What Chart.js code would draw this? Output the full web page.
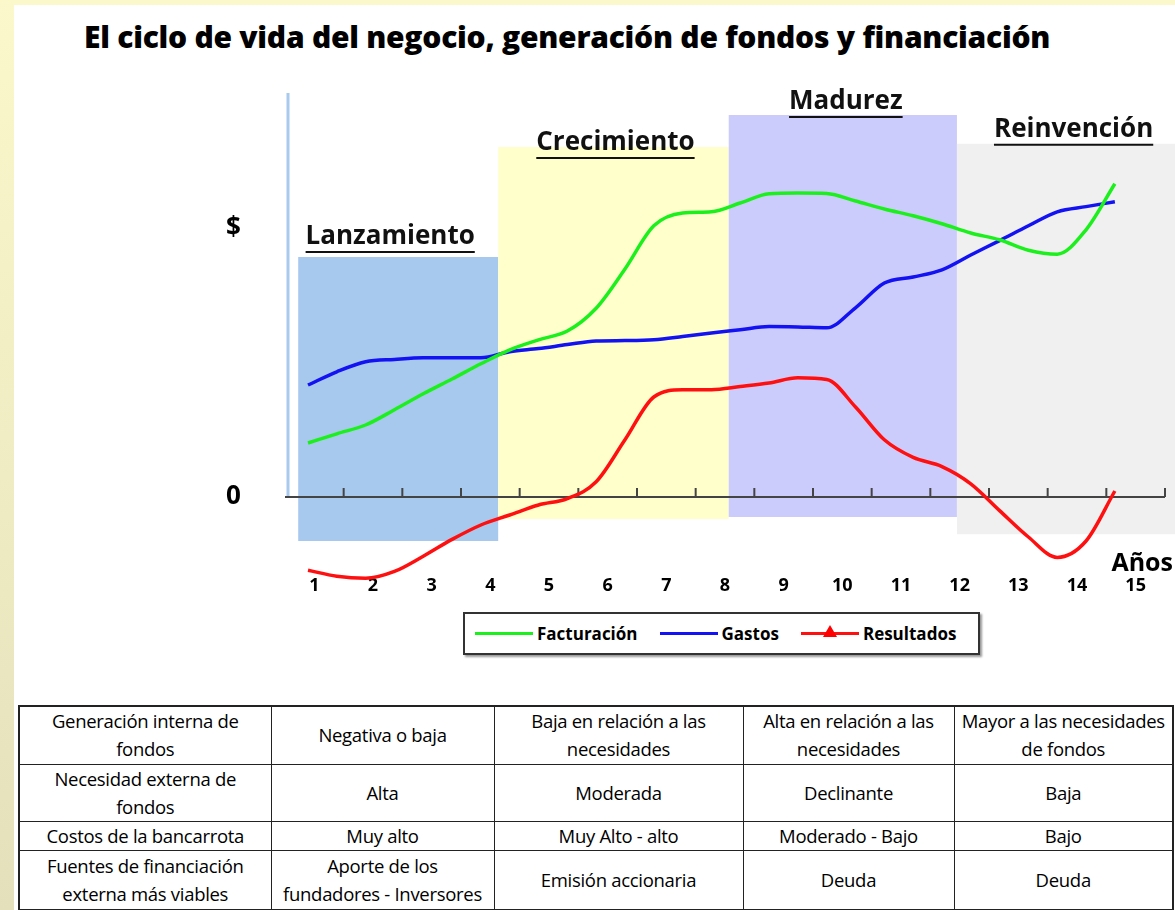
<!DOCTYPE html>
<html lang="es">
<head>
<meta charset="utf-8">
<title>El ciclo de vida del negocio</title>
<script src="https://cdn.jsdelivr.net/npm/chart.js@4.4.1/dist/chart.umd.min.js"></script>
<style>
  html, body { margin: 0; padding: 0; }
  body {
    width: 1175px; height: 910px; position: relative; overflow: hidden; background: #fff;
    font-family: 'Open Sans', sans-serif; color: #111;
  }
  .marco-sup { position: absolute; left: 0; top: 0; width: 1175px; height: 5px; background: #fbf8cb; }
  .marco-izq { position: absolute; left: 0; top: 0; width: 14px; height: 910px; background: linear-gradient(#fbf8cb, #e4e0bb); }
  h1 {
    position: absolute; left: 84px; top: 16px; margin: 0; white-space: nowrap;
    font-size: 30px; font-weight: 800; color: #000; letter-spacing: -0.25px;
  }
  #grafico { position: absolute; left: 0; top: 60px; }
  #leyenda {
    position: absolute; left: 463px; top: 612px; width: 513px; height: 39px;
    border: 2px solid #333; box-shadow: 2px 2px 2px #999; background: #fff;
    display: flex; align-items: center; font-size: 17px; font-weight: bold; color: #000;
  }
  .item { display: flex; align-items: center; margin-left: 10px; margin-right: 12px; }
  .trazo { position: relative; width: 58px; height: 3px; margin-right: 4px; }
  .triangulo {
    position: absolute; left: 22px; top: -7px; width: 0; height: 0;
    border-left: 7px solid transparent; border-right: 7px solid transparent; border-bottom: 12px solid red;
  }
  table {
    position: absolute; left: 18px; top: 705px; width: 1154px; border-collapse: collapse;
    border: 2px solid #222; font-size: 18.5px; color: #000; table-layout: fixed; letter-spacing: -0.3px;
  }
  td {
    border: 1.5px solid #222; text-align: center; vertical-align: middle; padding: 0;
    line-height: 28px; white-space: pre-line;
  }
</style>
</head>
<body>
<div class="marco-sup"></div>
<div class="marco-izq"></div>
<h1>El ciclo de vida del negocio, generación de fondos y financiación</h1>
<canvas id="grafico" width="1175" height="539"></canvas>
<div id="leyenda"></div>
<table id="tabla">
  <colgroup><col style="width:252px"><col style="width:223px"><col style="width:249px"><col style="width:211px"><col style="width:219px"></colgroup>
  <tbody></tbody>
</table>

<script>
// ── Datos ─────────────────────────────────
const anos = ['1', '2', '3', '4', '5', '6', '7', '8', '9', '10', '11', '12', '13', '14', '15'];
const tiempo = [1, 1.5, 2, 2.5, 3, 3.5, 4, 4.5, 5, 5.5, 6, 6.5, 7, 7.5, 8,
                8.5, 9, 9.5, 10, 10.5, 11, 11.5, 12, 12.5, 13, 13.5, 14, 14.5, 15];

const facturacion = [13.5, 15.8, 18, 21.8, 25.8, 29.5, 33.3, 36.8, 39.3, 41.5, 47.2, 57, 67.8, 71, 71.3,
                     73.5, 75.8, 76, 75.9, 74, 72, 70.3, 68.3, 66, 64.3, 61.7, 60.7, 66.8, 78.3];
const gastos      = [28, 31.3, 33.8, 34.4, 34.8, 34.8, 34.8, 36.3, 37.1, 38.1, 39, 39.1, 39.3, 40.1, 41,
                     41.8, 42.6, 42.5, 42.3, 47.3, 53.5, 55, 56.8, 60.5, 64.1, 67.8, 71.3, 72.6, 73.8];
const resultados  = [-18.3, -19.8, -20.3, -18.6, -14.8, -10.6, -7, -4.5, -2, -0.4, 3.8, 14.3, 25, 26.8, 26.8,
                     27.6, 28.5, 29.8, 29.4, 22.5, 14.3, 9.9, 7.6, 3.3, -3.4, -10, -15.1, -11, 1.5];

const fases      = ['Lanzamiento', 'Crecimiento', 'Madurez', 'Reinvención'];
const faseDesde  = [0.83, 4.3, 8.3, 12.26];
const faseHasta  = [4.3, 8.3, 12.26, 16.1];
const faseTecho  = [60, 87.5, 95.5, 88.3];
const fasePiso   = [-11, -5.5, -5, -9.3];

const ejeYValores   = [0, 67];
const ejeYEtiquetas = ['0', '$'];

const tablaFilas = [
  ['Generación interna de\nfondos', 'Negativa o baja', 'Baja en relación a las\nnecesidades', 'Alta en relación a las\nnecesidades', 'Mayor a las necesidades\nde fondos'],
  ['Necesidad externa de\nfondos', 'Alta', 'Moderada', 'Declinante', 'Baja'],
  ['Costos de la bancarrota', 'Muy alto', 'Muy Alto - alto', 'Moderado - Bajo', 'Bajo'],
  ['Fuentes de financiación\nexterna más viables', 'Aporte de los\nfundadores - Inversores', 'Emisión accionaria', 'Deuda', 'Deuda']
];
const altoFilas = [58, 57, 28, 60];

// ── Estilos ───────────────────────────────
const FUENTE = "'Open Sans', sans-serif";

const fondoFases = {
  id: 'fondoFases',
  beforeDatasetsDraw(chart, args, opts) {
    const { ctx, chartArea, scales: { x, xl, y } } = chart;
    const cero = y.getPixelForValue(0);
    ctx.save();

    // rectángulos de cada fase
    fases.forEach((nombre, i) => {
      const x0 = xl.getPixelForValue(faseDesde[i]);
      const x1 = xl.getPixelForValue(faseHasta[i]);
      const y0 = y.getPixelForValue(faseTecho[i]);
      const y1 = y.getPixelForValue(fasePiso[i]);
      ctx.fillStyle = opts.colores[i];
      ctx.fillRect(x0, y0, x1 - x0, y1 - y0);
    });

    // nombres subrayados
    ctx.font = `bold 26px ${FUENTE}`;
    ctx.fillStyle = '#111';
    ctx.strokeStyle = '#111';
    ctx.textAlign = 'center';
    ctx.textBaseline = 'middle';
    fases.forEach((nombre, i) => {
      const cx = (xl.getPixelForValue(faseDesde[i]) + xl.getPixelForValue(faseHasta[i])) / 2 + opts.dx[i];
      const cy = y.getPixelForValue(faseTecho[i]) + opts.dy[i];
      ctx.fillText(nombre, cx, cy);
      const w = ctx.measureText(nombre).width;
      ctx.lineWidth = 2;
      ctx.beginPath();
      ctx.moveTo(cx - w / 2, cy + 15);
      ctx.lineTo(cx + w / 2, cy + 15);
      ctx.stroke();
    });

    // eje vertical celeste
    ctx.strokeStyle = '#a9c9ef';
    ctx.lineWidth = 3;
    ctx.beginPath();
    ctx.moveTo(chartArea.left + 3, chartArea.top);
    ctx.lineTo(chartArea.left + 3, cero);
    ctx.stroke();

    // eje horizontal en cero con marcas
    ctx.strokeStyle = '#444';
    ctx.lineWidth = 2;
    ctx.beginPath();
    ctx.moveTo(chartArea.left, cero);
    ctx.lineTo(chartArea.right, cero);
    const paso = x.getPixelForValue(1) - x.getPixelForValue(0);
    for (let k = 0; k < anos.length; k++) {
      const px = x.getPixelForValue(k) + paso / 2;
      ctx.moveTo(px, cero);
      ctx.lineTo(px, cero - 9);
    }
    ctx.stroke();

    // título del eje x
    ctx.font = `bold 25px ${FUENTE}`;
    ctx.fillStyle = '#000';
    ctx.textAlign = 'right';
    ctx.fillText('Años', chartArea.right + 8, cero + 67);
    ctx.restore();
  }
};

const serie = vals => tiempo.map((t, i) => ({ x: t, y: vals[i] }));

const chart = new Chart(document.getElementById('grafico'), {
  type: 'line',
  data: {
    datasets: [
      { label: 'Facturación', data: serie(facturacion), borderColor: '#1cf01c', pointStyle: false },
      { label: 'Gastos',      data: serie(gastos),      borderColor: '#1212f2', pointStyle: false },
      { label: 'Resultados',  data: serie(resultados),  borderColor: '#ff1010', pointStyle: 'triangle' }
    ].map(d => Object.assign(d, {
      xAxisID: 'xl', borderWidth: 3.5, cubicInterpolationMode: 'monotone', pointRadius: 0, clip: false
    }))
  },
  options: {
    responsive: false,
    animation: false,
    layout: { padding: { top: 33, right: 10, left: 226, bottom: 0 } },
    plugins: {
      legend: { display: false },
      tooltip: { enabled: false },
      fondoFases: {
        colores: ['#a8c9ee', '#ffffcc', '#ccccfc', '#f0f0f0'],
        dx: [-8, 2, 3, 6],
        dy: [-20, -4, -13, -14]
      }
    },
    scales: {
      x: {
        type: 'category', labels: anos, offset: true, position: 'bottom',
        grid: { display: false, drawTicks: false }, border: { display: false },
        ticks: { color: '#000', font: { family: FUENTE, size: 18, weight: 'bold' }, padding: 0, maxRotation: 0, autoSkip: false },
        afterFit: s => { s.height = 24; }
      },
      xl: { type: 'linear', display: false, min: 0.601, max: 15.87 },
      y: {
        min: -19.5, max: 101,
        grid: { display: false }, border: { display: false },
        afterBuildTicks: s => { s.ticks = ejeYValores.map(v => ({ value: v })); },
        ticks: {
          color: '#000', padding: 0, crossAlign: 'far', font: { family: FUENTE, size: 26, weight: 'bold' },
          callback: v => ejeYEtiquetas[ejeYValores.indexOf(v)]
        },
        afterFit: s => { s.width = 59; }
      }
    }
  },
  plugins: [fondoFases]
});

// ── Leyenda ───────────────────────────────
document.getElementById('leyenda').innerHTML = chart.data.datasets.map(d => `
  <div class="item">
    <span class="trazo" style="background:${d.borderColor}">
      ${d.pointStyle === 'triangle' ? '<span class="triangulo"></span>' : ''}
    </span>
    <span>${d.label}</span>
  </div>`).join('');

// ── Tabla ─────────────────────────────────
document.querySelector('#tabla tbody').innerHTML = tablaFilas.map((f, i) =>
  `<tr style="height:${altoFilas[i]}px">${f.map(c => `<td>${c}</td>`).join('')}</tr>`).join('');
</script>
</body>
</html>
